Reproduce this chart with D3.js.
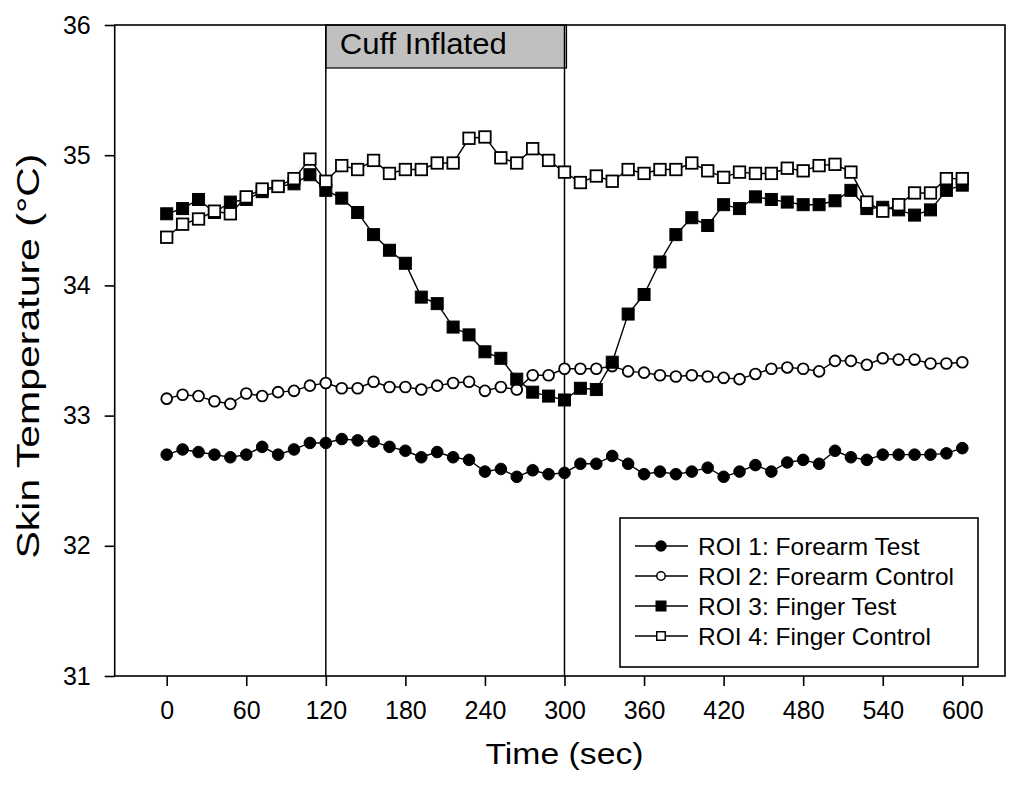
<!DOCTYPE html>
<html>
<head>
<meta charset="utf-8">
<script src="https://cdn.jsdelivr.net/npm/d3@7"></script>
<style>
  html, body { margin: 0; padding: 0; background: #fff; }
  svg { display: block; font-family: "Liberation Sans", Arial, sans-serif; }
</style>
</head>
<body>
<svg id="chart" width="1033" height="785"></svg>
<script>
// ---- data ----
const timeSec = [0,12,24,36,48,60,72,84,96,108,120,132,144,156,168,180,192,204,216,228,240,252,264,276,288,300,312,324,336,348,360,372,384,396,408,420,432,444,456,468,480,492,504,516,528,540,552,564,576,588,600];
const roi1ForearmTest = [32.70,32.74,32.72,32.70,32.68,32.70,32.76,32.70,32.74,32.79,32.79,32.82,32.81,32.80,32.76,32.73,32.68,32.72,32.68,32.66,32.57,32.59,32.53,32.58,32.55,32.56,32.63,32.63,32.69,32.63,32.55,32.57,32.55,32.57,32.60,32.53,32.57,32.62,32.57,32.64,32.66,32.63,32.73,32.68,32.66,32.70,32.70,32.70,32.70,32.71,32.75];
const roi2ForearmControl = [33.13,33.16,33.15,33.11,33.09,33.17,33.15,33.18,33.19,33.23,33.25,33.21,33.21,33.26,33.22,33.22,33.20,33.23,33.25,33.26,33.19,33.22,33.20,33.31,33.31,33.36,33.36,33.36,33.38,33.34,33.33,33.31,33.30,33.31,33.30,33.29,33.28,33.32,33.36,33.37,33.36,33.34,33.42,33.42,33.39,33.44,33.43,33.43,33.40,33.40,33.41];
const roi3FingerTest = [34.55,34.59,34.66,34.56,34.64,34.66,34.72,34.76,34.78,34.85,34.73,34.67,34.56,34.39,34.27,34.17,33.91,33.86,33.68,33.62,33.49,33.44,33.28,33.18,33.15,33.12,33.21,33.20,33.41,33.78,33.93,34.18,34.39,34.52,34.46,34.62,34.59,34.68,34.66,34.64,34.62,34.62,34.65,34.73,34.59,34.60,34.58,34.54,34.58,34.73,34.77];
const roi4FingerControl = [34.37,34.47,34.51,34.57,34.55,34.68,34.74,34.76,34.82,34.97,34.80,34.92,34.89,34.96,34.86,34.89,34.89,34.94,34.94,35.13,35.14,34.98,34.94,35.05,34.96,34.87,34.79,34.84,34.80,34.89,34.86,34.89,34.89,34.94,34.88,34.83,34.87,34.86,34.86,34.90,34.88,34.92,34.93,34.87,34.64,34.57,34.62,34.71,34.71,34.82,34.82];
const seriesNames = ["ROI 1: Forearm Test","ROI 2: Forearm Control","ROI 3: Finger Test","ROI 4: Finger Control"];
const xTicks = [0,60,120,180,240,300,360,420,480,540,600];
const yTicks = [31,32,33,34,35,36];
const cuffPeriod = [120, 300];
const cuffLabel = "Cuff Inflated";
const xTitle = "Time (sec)";
const yTitle = "Skin Temperature (\u00B0C)";

// ---- layout ----
const svg = d3.select("#chart");
const frame = {left: 114.7, right: 1005, top: 25, bottom: 676};
const x = d3.scaleLinear().domain([0, 600]).range([166.7, 962.3]);
const y = d3.scaleLinear().domain([31, 36]).range([frame.bottom, frame.top]);

const series = [
  {name: seriesNames[0], values: roi1ForearmTest, shape: "circle", fill: "#000"},
  {name: seriesNames[1], values: roi2ForearmControl, shape: "circle", fill: "#fff"},
  {name: seriesNames[2], values: roi3FingerTest, shape: "square", fill: "#000"},
  {name: seriesNames[3], values: roi4FingerControl, shape: "square", fill: "#fff"}
];

// cuff box
svg.append("rect")
  .attr("x", x(cuffPeriod[0]))
  .attr("y", frame.top)
  .attr("width", x(cuffPeriod[1]) - x(cuffPeriod[0]) + 2)
  .attr("height", 43)
  .attr("fill", "#c0c0c0")
  .attr("stroke", "#000")
  .attr("stroke-width", 1.2);
svg.append("text")
  .attr("x", x(cuffPeriod[0]) + 14)
  .attr("y", frame.top + 29)
  .attr("font-size", 30)
  .attr("textLength", 167)
  .attr("lengthAdjust", "spacingAndGlyphs")
  .attr("fill", "#000")
  .text(cuffLabel);

// vertical lines
cuffPeriod.forEach(t => {
  svg.append("line")
    .attr("x1", x(t)).attr("x2", x(t))
    .attr("y1", frame.top).attr("y2", frame.bottom)
    .attr("stroke", "#000").attr("stroke-width", 1.5);
});

// frame
svg.append("rect")
  .attr("x", frame.left).attr("y", frame.top)
  .attr("width", frame.right - frame.left)
  .attr("height", frame.bottom - frame.top)
  .attr("fill", "none").attr("stroke", "#000").attr("stroke-width", 1.6);

// axes
const yAxis = d3.axisLeft(y).tickValues(yTicks).tickSize(10).tickPadding(14).tickFormat(d3.format("d"));
const gy = svg.append("g").attr("transform", `translate(${frame.left},0)`).call(yAxis);
gy.select(".domain").remove();
gy.selectAll("line").attr("stroke", "#000").attr("stroke-width", 1.6);
gy.selectAll("text").attr("font-size", 25).attr("font-family", "Liberation Sans, Arial, sans-serif").attr("fill", "#000");

const xAxis = d3.axisBottom(x).tickValues(xTicks).tickSize(10).tickPadding(15).tickFormat(d3.format("d"));
const gx = svg.append("g").attr("transform", `translate(0,${frame.bottom})`).call(xAxis);
gx.select(".domain").remove();
gx.selectAll("line").attr("stroke", "#000").attr("stroke-width", 1.6);
gx.selectAll("text").attr("font-size", 25).attr("font-family", "Liberation Sans, Arial, sans-serif").attr("fill", "#000");

// titles
svg.append("text")
  .attr("x", x(300))
  .attr("y", 764)
  .attr("text-anchor", "middle")
  .attr("font-size", 30)
  .attr("textLength", 158)
  .attr("lengthAdjust", "spacingAndGlyphs")
  .text(xTitle);
svg.append("text")
  .attr("transform", `translate(39,356) rotate(-90)`)
  .attr("text-anchor", "middle")
  .attr("font-size", 32)
  .attr("textLength", 405)
  .attr("lengthAdjust", "spacingAndGlyphs")
  .text(yTitle);

// series
const line = d3.line().x((d, i) => x(timeSec[i])).y(d => y(d));
series.forEach(s => {
  svg.append("path")
    .datum(s.values)
    .attr("d", line)
    .attr("fill", "none")
    .attr("stroke", "#000")
    .attr("stroke-width", 1.4);
  const g = svg.append("g");
  if (s.shape === "circle") {
    g.selectAll("circle").data(s.values).join("circle")
      .attr("cx", (d, i) => x(timeSec[i]))
      .attr("cy", d => y(d))
      .attr("r", s.fill === "#000" ? 5.8 : 5.4)
      .attr("fill", s.fill)
      .attr("stroke", "#000")
      .attr("stroke-width", s.fill === "#000" ? 1 : 1.8);
  } else {
    const sz = s.fill === "#000" ? 12 : 11.5;
    g.selectAll("rect").data(s.values).join("rect")
      .attr("x", (d, i) => x(timeSec[i]) - sz / 2)
      .attr("y", d => y(d) - sz / 2)
      .attr("width", sz).attr("height", sz)
      .attr("fill", s.fill)
      .attr("stroke", "#000")
      .attr("stroke-width", s.fill === "#000" ? 1 : 1.8);
  }
});

// legend
const leg = {left: 620, top: 518, right: 978, bottom: 667};
svg.append("rect")
  .attr("x", leg.left).attr("y", leg.top)
  .attr("width", leg.right - leg.left).attr("height", leg.bottom - leg.top)
  .attr("fill", "#fff").attr("stroke", "#000").attr("stroke-width", 1.6);
const rowY = d3.scalePoint().domain(seriesNames).range([546, 636]);
series.forEach(s => {
  const cy = rowY(s.name);
  svg.append("line")
    .attr("x1", 635).attr("x2", 688).attr("y1", cy).attr("y2", cy)
    .attr("stroke", "#000").attr("stroke-width", 1.5);
  if (s.shape === "circle") {
    svg.append("circle").attr("cx", 661).attr("cy", cy)
      .attr("r", s.fill === "#000" ? 5 : 4.2)
      .attr("fill", s.fill).attr("stroke", "#000").attr("stroke-width", 1.5);
  } else {
    const sz = s.fill === "#000" ? 9.5 : 8.5;
    svg.append("rect").attr("x", 661 - sz / 2).attr("y", cy - sz / 2)
      .attr("width", sz).attr("height", sz)
      .attr("fill", s.fill).attr("stroke", "#000").attr("stroke-width", 1.5);
  }
  svg.append("text")
    .attr("x", 698).attr("y", cy + 9)
    .attr("font-size", 24.5)
    .text(s.name);
});
</script>
</body>
</html>
